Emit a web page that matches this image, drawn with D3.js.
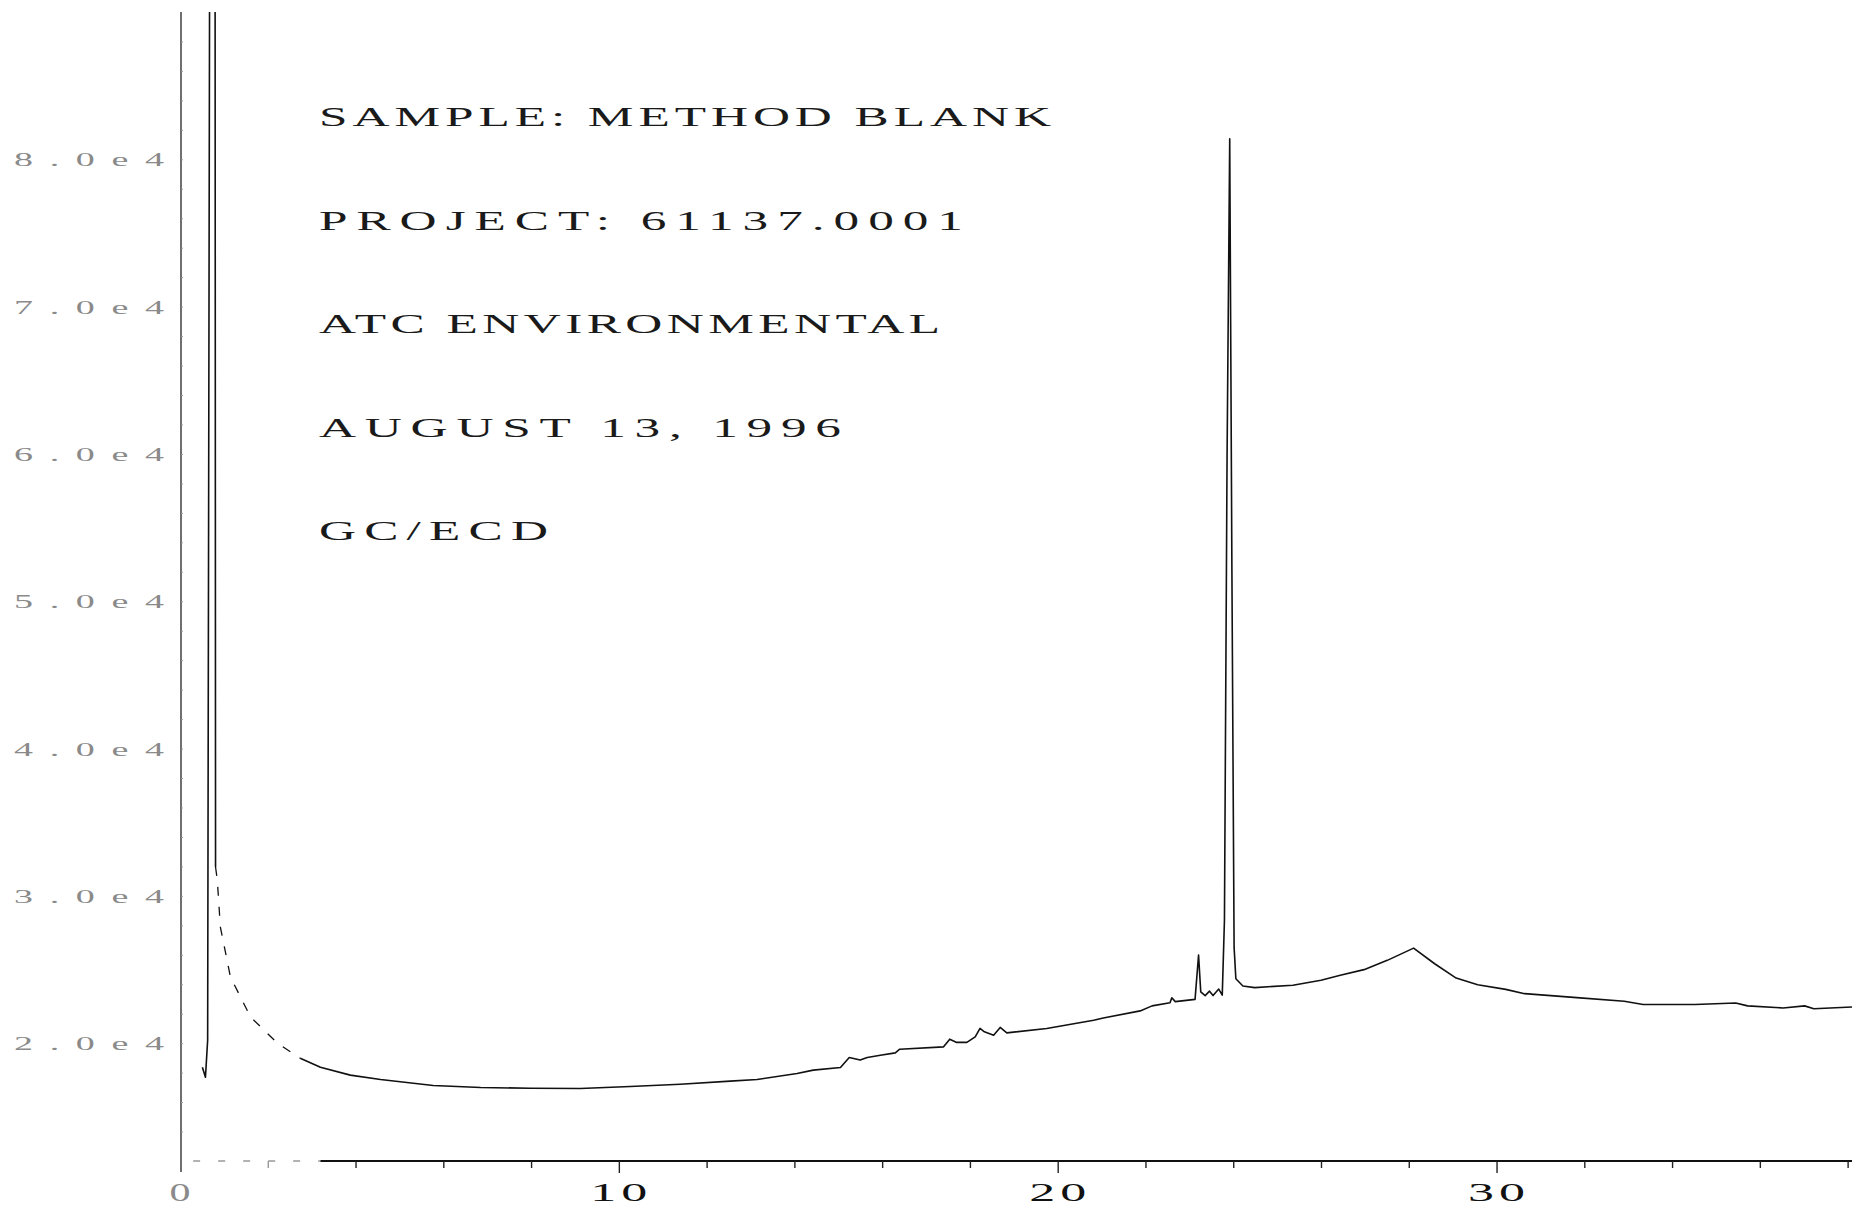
<!DOCTYPE html>
<html>
<head>
<meta charset="utf-8">
<script src="https://cdn.jsdelivr.net/npm/d3@7"></script>
<style>
  html, body { margin: 0; padding: 0; background: #fff; }
  svg { display: block; }
</style>
</head>
<body>
<script>
const width = 1852, height = 1207;

// retention time (min) and detector response
const retentionTimes = [
    0.51, 0.58, 0.63, 0.71, 0.79, 0.81, 0.85, 0.92, 1.15, 1.61, 2.22, 2.74, 3.20, 3.88, 4.57,
    5.77, 6.85, 7.98, 9.12, 10.26, 11.40, 12.54, 13.15, 14.06, 14.43, 15.05, 15.25, 15.50, 15.66,
    15.96, 16.30, 16.40, 17.40, 17.54, 17.70, 17.93, 18.12, 18.23, 18.33, 18.54, 18.69, 18.84,
    19.75, 20.82, 21.04, 21.88, 22.15, 22.56, 22.60, 22.68, 23.13, 23.21, 23.26, 23.36, 23.46,
    23.54, 23.67, 23.75, 23.80, 23.86, 23.92, 23.97, 24.02, 24.06, 24.22, 24.49, 25.36, 26.00,
    26.44, 26.98, 27.51, 28.11, 28.59, 29.08, 29.57, 30.21, 30.64, 31.83, 32.91, 33.34, 34.52,
    35.45, 35.72, 36.53, 37.02, 37.23, 38.10
];
const detectorSignal = [
    18370, 17690, 20200, 150000, 150000, 31960, 31070, 27880, 24480, 21770, 20000, 18980, 18370, 17830, 17530,
    17130, 16990, 16940, 16920, 17060, 17210, 17420, 17530, 17940, 18170, 18350, 19030, 18850, 19030,
    19180, 19340, 19590, 19750, 20270, 20050, 20050, 20430, 21000, 20770, 20540, 21070, 20700,
    21000, 21560, 21710, 22190, 22530, 22740, 23080, 22820, 22970, 25980, 23480, 23230, 23530,
    23230, 23670, 23260, 28360, 60000, 81400, 52000, 26500, 24370, 23880, 23770, 23930, 24270,
    24610, 24990, 25620, 26450, 25390, 24420, 23970, 23650, 23360, 23090, 22840, 22620, 22620,
    22730, 22530, 22390, 22530, 22340, 22450
];

const yTickValues = [20000, 30000, 40000, 50000, 60000, 70000, 80000];
const yTickLabels = ["2.0e4", "3.0e4", "4.0e4", "5.0e4", "6.0e4", "7.0e4", "8.0e4"];
const xLabelValues = [0, 10, 20, 30];
const headerLines = [
    "SAMPLE: METHOD BLANK",
    "PROJECT: 61137.0001",
    "ATC ENVIRONMENTAL",
    "AUGUST 13, 1996",
    "GC/ECD"
];

// layout
const headerWidths = [732, 644, 621, 522, 229];
const font = "'Liberation Serif', 'Times New Roman', serif";

const x = d3.scaleLinear().domain([0, 38.1]).range([180, 1852]);
const y = d3.scaleLinear().domain([12000, 90000]).range([1161, 12]);

const svg = d3.select("body")
    .append("svg")
    .attr("width", width)
    .attr("height", height)
    .attr("viewBox", `0 0 ${width} ${height}`);

// wide plotter lettering: glyphs stretched by sx, the rest made up with spacing
function plotterText(parent, str, x0, baseline, len, sx) {
    return parent
        .append("text")
        .attr("transform", `translate(${x0},${baseline}) scale(${sx},1)`)
        .attr("textLength", len / sx)
        .attr("lengthAdjust", str.length > 1 ? "spacing" : "spacingAndGlyphs")
        .text(str);
}

// y axis
const yAxis = svg.append("g")
    .attr("transform", `translate(${x(0) + 1},0)`);

yAxis.append("line")
    .attr("y1", 12)
    .attr("y2", y(12000) + 11)
    .attr("stroke", "#333")
    .attr("stroke-width", 1.4);

yAxis.call(d3.axisRight(y).tickValues(d3.range(14000, 90000, 2000)).tickSize(2).tickFormat(""))
    .call(g => g.select(".domain").remove())
    .call(g => g.selectAll(".tick line").attr("stroke", "#999"));

const yLabels = svg.append("g")
    .attr("font-family", font)
    .attr("font-size", 19)
    .attr("fill", "#8a8a8a");

yTickValues.forEach((v, i) => {
    plotterText(yLabels, yTickLabels[i], 14, y(v) + 7, 150, 2.0);
});

// x axis
const xAxis = svg.append("g")
    .attr("transform", `translate(0,${y(12000)})`);

xAxis.append("line")
    .attr("x1", x(0.3))
    .attr("x2", x(3.2))
    .attr("stroke", "#999")
    .attr("stroke-width", 1.5)
    .attr("stroke-dasharray", "7,18");

xAxis.append("line")
    .attr("x1", x(3.2))
    .attr("x2", width)
    .attr("stroke", "#111")
    .attr("stroke-width", 2);

xAxis.call(d3.axisBottom(x).tickValues(d3.range(2, 39, 2)).tickSizeOuter(0).tickFormat(""))
    .call(g => g.select(".domain").remove())
    .call(g => g.selectAll(".tick line")
        .attr("y2", d => d % 10 === 0 ? 12 : 7)
        .attr("stroke", d => d < 3 ? "#999" : "#222")
        .attr("stroke-width", 1.4));

const xLabels = svg.append("g")
    .attr("font-family", font)
    .attr("font-size", 26);

xLabelValues.forEach(v => {
    const len = v === 0 ? 21 : 57;
    plotterText(xLabels, String(v), x(v) - len / 2, 1201, len, 2.0)
        .attr("fill", v === 0 ? "#8a8a8a" : "#111");
});

// header block
const header = svg.append("g")
    .attr("font-family", font)
    .attr("font-size", 27)
    .attr("fill", "#1a1a1a");

headerLines.forEach((line, i) => {
    plotterText(header, line, 319, 126 + i * 103.6, headerWidths[i], 1.9);
});

// chromatogram trace
svg.append("clipPath")
    .attr("id", "plot-clip")
    .append("rect")
    .attr("x", x(0))
    .attr("y", 12)
    .attr("width", width - x(0))
    .attr("height", y(12000) - 12);

const trace = retentionTimes.map((t, i) => ({ t: t, v: detectorSignal[i] }));
const line = d3.line().x(d => x(d.t)).y(d => y(d.v));

// the steep solvent tail comes out broken on the scan, so it is drawn dashed
const segments = [
    { data: trace.filter(d => d.t <= 0.81), dash: null },
    { data: trace.filter(d => d.t >= 0.81 && d.t <= 2.74), dash: "9,11" },
    { data: trace.filter(d => d.t >= 2.74), dash: null }
];

svg.append("g")
    .attr("clip-path", "url(#plot-clip)")
    .selectAll("path")
    .data(segments)
    .join("path")
    .attr("fill", "none")
    .attr("stroke", "#111")
    .attr("stroke-width", d => d.dash ? 1.3 : 1.6)
    .attr("stroke-dasharray", d => d.dash)
    .attr("stroke-linejoin", "round")
    .attr("d", d => line(d.data));
</script>
</body>
</html>
